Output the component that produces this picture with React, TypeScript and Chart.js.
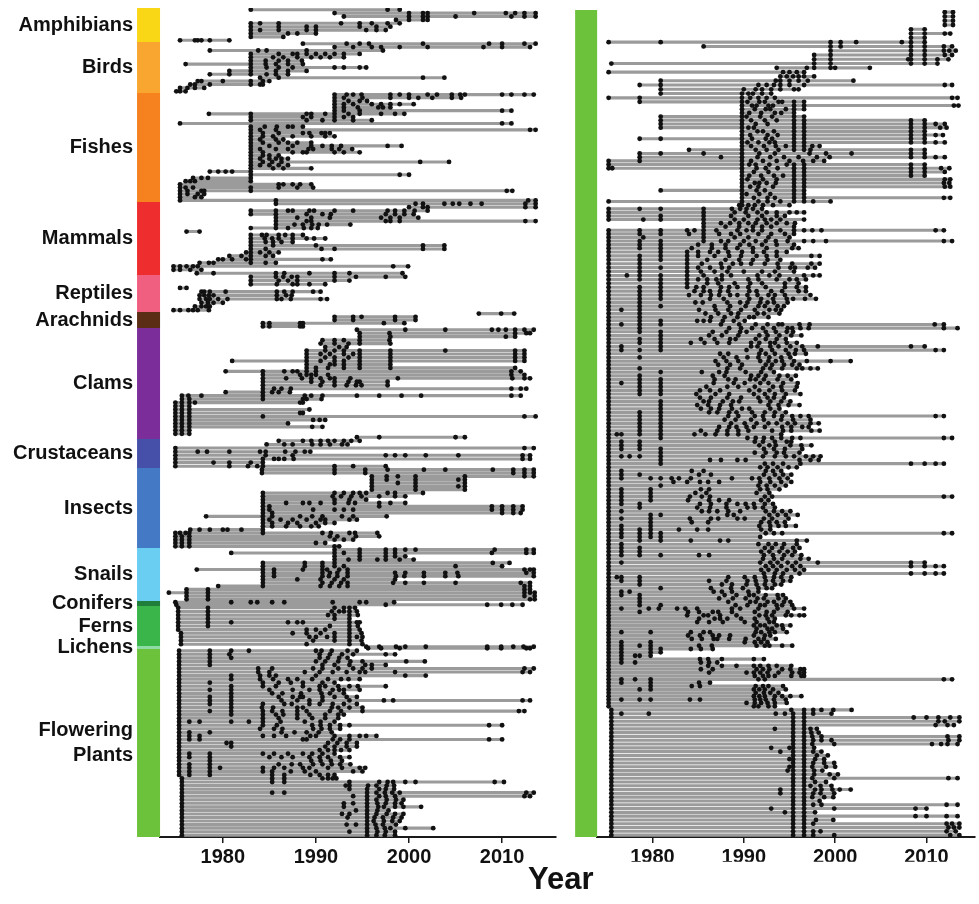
import React, { useEffect, useRef } from 'react';
import { Chart, registerables } from 'chart.js';
Chart.register(...registerables);

const FONT = "'Liberation Sans', Arial, Helvetica, sans-serif";

// ---------- LEFT PANEL: taxonomic groups ----------
const categories = ['Amphibians', 'Birds', 'Fishes', 'Mammals', 'Reptiles', 'Arachnids', 'Clams', 'Crustaceans', 'Insects', 'Snails', 'Conifers', 'Ferns', 'Lichens', 'Flowering Plants'];
const categorySizes = [34, 51, 109, 73, 37, 16, 111, 29, 80, 53, 5, 40, 3, 188];
const categoryColors = ['#F9D616', '#F9A630', '#F5821F', '#EE2D2E', '#F15F80', '#5A2D14', '#7B2D9A', '#4650A8', '#4479C6', '#6ACDF2', '#1E7E3A', '#39B54A', '#8DDBA5', '#6CC23A'];

// each row = one species; values are years of listing events (yy, <30 means 20yy)
const amphibians = [
  '83 97.7 99', '92 00 01.5 02 07 10.4 11.4 12.4 13.6', '93 00 01.5 02 05 11 12.4 13.6', '98.6 00 01.5 02',
  '83 84 86 92.7 94.7 96 97.7 99', '83 86 89 90 94.7 96.5 98', '83 84 86 89 90 95.4 96.5 97.5', '83 87 88 90', '83 86.5',
  '75.4 77 77.3 77.7 78.6 80.7',
];
const birds = [
  '88.6 93.3 94.7 95.7 01.5 08.6 10 12.4 13.6', '92 94 96 97 99 02 08 10 13', '78.6 83.8 84.7 89 97.2',
  '83 86 87.5 88 89 90 91 92 93 94.7', '83 85.4 86.5 88 89.5 90.5 91.5 93', '83 84.6 86 87 88.5', '76 83 84.6 85.7 87 88.6',
  '83 84.7 86 87.5 92 93 94.7 95.4', '80.7 83 85.7 87 89', '78.6 80.7 83 84.7 85.7 87', '84 86 01.5 03.8',
  '77.3 77.7 80 83 84.3 85', '76.5 77 78.6 83 84 84.3', '75.4 76.2 77 78', '75 75.4 76',
];
const fishes = [
  '92 93.3 94 94.9 98 99 00 02 03 04.6 05.5 06 10 11 12.4 13.4', '92 93 95 98 00 01 02.5 04.6 05.6', '92 93.5 94.7 95.5',
  '92 93 94 96 97 98 99 00.5', '92 93 94.5 96.7 97.2 98', '92 93 94.7 10 11', '78.5 83 89 89.5 91 92 93.5 94.7 97 98.5 99.5',
  '83 88.6 89.5 92 93 94', '83 89 90.7 92 94 96', '75.4 10 11', '83 84.5 85.8 87 87.5 88.6', '83 84 85.7 13 13.6',
  '83 84.3 86 88.6 89.3 90.6 91 91.5', '83 84.3 85.4 87.5 89.5 91 92', '83 84 85.7 86.5', '83 84.3 86 87 88 89.5',
  '83 85 87.5 89.5 90.7 91.7 92.7 97.7 99.2', '83 84 85.7 87 89.2 89.7 91.7 92.5 93.9', '83 84.3 87.5 88.6 89 92 93 94.7',
  '83 84.3 85 86', '83 84 85 85.7 86.3 87', '83 84.3 85.3 86.3 01.2 04.3', '83 84 85 86 87', '83 85.4 86.5 89.5',
  '78.6 79.5 80.3 81 83', '83 99 00', '76.8 77.7 78.4 83', '76 76.5 77 83', '75.4 86 86.5 87.5 88.3 89.5',
  '75.4 76 76.8 83 86 88 89.7', '75.4 76.2 77.7 78 83 10.5 11.1', '75.4 76.2 77.3 78', '75.4 77 77.7', '75.4 85.7 12.8 13.6',
];
const mammals = [
  '85.7 00.7 01.5 03.8 04.7 05.4 06.6 07.8 12.5 13.6', '00 01.5 02 12.5 13.6', '83 85.7 87 87.5 89.3 89.8 92 94 97.7 98.5 99.5 00.6 02',
  '83 85.7 89 90.7 91.6 97.5 98.5 99.5 00.5', '85.7 88 89.5 91.5 97 98 99 01', '85.7 89 89.5 97.5 98 99 12.5 13.6',
  '85.7 87.7 88.6 89.6 90.3 91.2 93.7', '83 85.7 87 88.7 89.5 90.2', '76.1 77.5', '83 84.2 84.7 86 86.7 87.5 88.6',
  '83 84.5 85.3 86 87.5 89 89.8 91', '83 84.6 85.4 86.3 87.5', '83 85.4 90 01.5 03.8', '83 84.6 90.6 92 01.5 03.8',
  '82.5 83 84 85 86', '80.7 82 83 84.6 85.4', '79.5 80 81 82.5 83 90.7 91.6', '77.5 78.5 79 83 84.6 85.7',
  '74.7 75.4 76.1 76.8 77.3 98.3 99.9', '74.7 75.4 76.5 77.7', '77.2 79 85.7 86.6 89.3 92 93.6 99.3',
];
const reptiles = [
  '83 85.7 86.5 87.4 88 92 94.3 97.5 99.6', '83 86 87 88 92 93.6', '83 85.8 87.5 88 89.3 91', '75.4 76.1',
  '77.7 78 78.6 80.3 85.8 86.6 87.5 89.7 90.5', '77.5 78 78.5 79 85.8 86.8 87.4', '77.5 78.2 78.6 79.5 80.5 85.8 86.3 87.3 90.5 91.2',
  '77.7 78.4 79 80', '77 77.7 78.2 78.6', '74.7 75.4 76.3 76.8 77.3 78.5',
];
const arachnids = ['07.5 09.9 11.3', '92 94 94.9 98.5 00.7', '92 94 98.5 00.7', '84.3 85 88.3 88.6 97.3 99.5', '84.3 85 88.3 88.6'];
const clams = [
  '94.4 99.6 03.9 08.9 09.6 10.4 11.4 12.4 13.4', '94.7 97.9 11.4 12.6 13', '94.7 98 10.4 11.4', '90.7 92 93 94.7 97.9',
  '90.5 92 93.5 94.7 98', '91 92.5 93.3', '89 91 92 93 94.7 98 03.9 11.4 12.4', '89 90.5 91.5 93 94 94.7 98 11.4 12.4',
  '89 91 92 93.5 94.7 98 11.4 12.4', '81 89 90.5 92 93 94.7 98 11.4 12.4', '89 91.5 92 93 94.7 98', '89 90 91.3 93 94.7 98 11.4',
  '80.3 84.3 86.6 87.5 88 89 90 11 12', '84.3 88.3 89 89.5 90 91.3 11 12.4', '84.3 86.8 88.5 89.5 90.5 91.5 92 93.7 98.8 11.1 12.4 13',
  '84.3 89.5 90.7 92 93.5 94.4 94.7 97.7', '84.3 90.5 92 93.3 94.3 94.9 97.7', '84.3 85.5 86.3 87.3 11 12 12.6', '80.3 84.3 85.3 86 87.2',
  '75.6 76.3 77.7 84.3 88.8 89.5 90.7 94.4 96.8 99.2 01.3 11 12', '75.6 76.4 84.3 88.6 89 90.6', '74.9 75.6 76.4 77 88.3 88.6',
  '74.9 75.6 76.4', '74.9 75.6 76.4 89.3', '74.9 75.6 76.4 88.3 88.6', '74.9 75.6 76.4 84.3 12.4 13.6', '74.9 75.6 76.4 89.7 90.4 91',
  '74.9 75.6 76.4 87', '74.9 75.6 76.4 89.6 90.7', '74.9 75.6 76.4', '74.9 75.6 76.4', '94.4 96.8 05 06',
];
const crustaceans = [
  '86 88.6 89.5 90.5 91.3 92 93 93.8 94.7', '84.7 86.6 87.5 89.6 90.5 91.5 92.8 93.4', '74.9 12.4 13.4',
  '74.9 77.3 78.3 80.7 84 84.6 86.7 87.8 88.8 89.4', '74.9 84.6 87.5 97.5 98.5 99.6 01.8 05.3 12.2 13',
  '74.9 84.3 85.5 86 86.6 87.6 12.2 13', '74.9 79 80.7 83 84.3', '74.9 80.7 82.7 83.7 84.3 92 94 97.5',
];
const insects = [
  '84.2 92 95.3 97.7 01.6 03.9 09 11.2 12.4 13.4', '84.2 92 95.3 11.2 12.4 13.4', '96 97.6 98.8 00.7 06 12.4 13.4',
  '96 97.6 00.7 05.3 06', '96 98.8 00.7 06', '96 00.7 05.3 06', '96 00.7 06', '84.3 92 93 94 94.7 95.4 97.7 98.5 01.5',
  '84.3 91.8 92.7 93.8 94.9 96.8 98.5 99.6', '84.3 92 93.6 95.4', '84.3 86.8 88.6 89.3 90.5 92 93.5 94.2 96.8 98 99.6',
  '84.3 85 96.8 08.9 10 11.2 12.2', '84.3 85 89.7 92 93 94 08.9 10 11.2 12.2', '84.3 85.3 10 11.2 12',
  '78.2 84.3 85.3 88.3 89.6 90.7 92.8 94 97.6', '84.3 85 86.2 87.5 89 90.5 91 93.6 94.4', '84.3 85.3 87 88 90 91 92',
  '84.3 85.3 86.8 88.3 89.5 90.3', '76.5 77.5 78.6 80 80.5 82 84.3', '74.9 75.4 76 76.4 84.3 90.7 91.6 93.6 94.2 96.6',
  '74.9 75.6 76.4 91.5 92.3 94.3 96.8', '74.9 75.6 76.4 92 93 94', '74.9 75.6 76.4 90 91', '74.9 75.6 76.4 92 92.5',
];
const snails = [
  '92 94.7 97.5 98.5 99.6 00.7 09.2 12.6 13.4', '80.9 92 93 94.7 97.5 98.5 08.9 12.6 13.4', '92 94.7 97.5 98.5 99.6',
  '92 93.5 94.7 96.6 97.5 99 00.5', '84.3 88.8 90.7 92 09 10.8', '84.3 88.8 90.7 92 93 05 10',
  '77.2 84.3 85.5 88.6 90.7 91.2 92.5 93.4 12.4 13 13.4', '84.3 85.5 90.7 91.5 92.3 93.4 98.5 99.6 01.6 03.9 05.2 12.6 13.4',
  '84.3 85.5 90.7 91.4 92.3 93.4 98.6 99.5 01.6 03.9 05.3 13.4', '84.3 88 90.5 92 93 98.5', '84.3 90.7 91.7 92.7 93.4 98.3 99.6 01.6 05 12 13',
  '79.5 84.3 90.5 91.5 92.5 93.4 12.4 13', '76.1 78.4 12.4 13', '74.2 76.1 78.4 12.4 13 13.5', '76.1 78.4 12.4 13.5', '76.1 78.4 13 13.5',
];
const conifers = ['74.9 80.9 83 83.7 85.3 86.6 91.8 94.7 95.4 98.4', '75 97.5 08.4 09.9 11.1 12.2'];
const ferns = [
  '75.2 78.4 92 93 93.6 94.2', '75.2 78.4 91.7 92.5 93 93.6 94.4', '75.2 78.4 91.3 92 93.6 94.5', '75.2 78.4 92 93.6',
  '75.2 78.4 80.9 87 88 88.6 93.6 94.4 94.7', '75.2 78.4 91.5 93.6 94.5', '75.2 89 90 91 93.6 94.7', '75.5 87.5 89 90.5 92 93.6 94.9',
  '75.5 89.3 90 91.2 92 93.6 94.4 95', '75.5 89.7 92 93.6 94.9', '75.5 89 93.6 95',
];
const lichens = ['95.4 96.8 98.6 99.6 01.8 08.4 09.9 11.2 12.3 13.4', '95.6 97 99 08.4 09.9 12.6 13'];
const floweringLeft = [
  '75.3 78.6 80.9 82.8 90 90.6 91.7 93.4 94.4', '75.3 78.6 80.7 90.4 91.5 92.8 94 97.5 98.5', '75.3 78.6 80.9 90.4 91.3 92.5 93.4',
  '75.3 78.6 90 91 92.4 93.7 95 99.7 01.7', '75.3 78.6 90.7 92 93.6 95.3 96 97.5', '75.3 83.8 85.3 89.7 90.7 92.4 94 95 96 12.4 13.4',
  '75.3 83.8 85 88.8 90.4 91.8 93.3 94.7 95.3 98.5 12.2 13', '75.3 80.9 84 85 85.7 90 99.6 01.8', '75.3 80.9 84 85.4 87 88 89.6 91.3 92.7 93.5 94.7',
  '75.3 78.6 84.3 86 87.3 88.6 90.7 92', '75.3 80.9 84.3 85.7 88.6 90.4 91 92.4 93.6 94.5 97.5', '75.3 78.6 80.9 85 87.5 89.3 90.4 91.8 92.5 93 94.7',
  '75.3 80.9 85.3 86.4 88.4 90.6 91.5 93', '75.3 78.6 80.9 86 87.5 88.3 88.6 90.7 92 93.3 94.4', '75.3 78.6 80.9 86.3 88 89.3 90.7 93.6 97.3 98.3 12.2 13',
  '75.3 78.6 80.9 84.3 86.6 87.4 89.3 90.4 91.8 93 94.4', '75.3 80.9 84.2 85.4 88 88.6 91.7 92.4 93.6 95', '75.3 78.6 80.9 84.3 85.3 86.4 88 89 91.5 92.7 95 11.8 12.4',
  '75.3 80.9 84.3 85.7 86.5 88 89.3 91 92.4 93', '75.3 84.3 86 88 89.6 91 92.4', '75.3 76.4 77.5 80.9 82.8 84.3 86.2 88.8 90.5 92',
  '75.3 84.3 85.8 89.6 90.5 91.5 92.6 93.6 08.6 10', '75.3 84 85.5 86.4 89.7 90.6 91.5 92.6', '75.3 76.4 78.6 86.3 87.7 89 90.3 91.7',
  '75.3 76.4 77.5 84.3 85.5 86.8 89.4 90 92 93.6 94.7 95.4 96.5', '75.3 76.4 77.5 88.6 89 91.8 92.6 93.6 08.6 10', '75.3 80.4 80.9 91.3 92.3 93.3 94.4',
  '75.3 80.9 91 92 93.3 94.4', '75.3 90.4 91.3 92 92.7 93.6', '75.3 76.4 78.6 84.3 85.5 87 88.6 89.6 90.7 92',
  '75.3 76.4 78.6 85 86.3 87.5 89.3 90.4 91.3 92.6 93.6', '75.3 78.6 89.5 90.5 91.6 92.8', '75.3 76.4 78.6 86 87.4 88.3 89.7 90.7 91.7 92.6 93.7',
  '75.3 76.4 78.6 79.7 84.3 85.5 86.6 88.6 89.3 91.3 92.8 94.7 95.3', '75.3 76.4 78.6 84.3 85.3 87.3 88.8 90 94 95', '75.3 76.4 78.6 85.3 86.6 89.4 90.4 91.3 92',
  '75.6 85.3 86.6 90.7 91.3 91.8 92.2', '75.6 85.3 86.6 93.6 96.8 97.7 98.3 99.6 00.7 09.2 10.2', '75.6 93.2 93.6 95.6 96.5 97.6 98.4',
  '75.6 93.6 95.5 96.8 97.5 98.4', '75.6 85.3 86.6 95.5 96.5 97.4 98.2 99 12.6 13.4', '75.6 94 95.5 96.8 97.5 98.5 12.4 13',
  '75.6 95.5 96.5 97.6 98.6 99.4', '75.6 93 94 95.5 96.6 97.5 98.5 99.2', '75.6 93 95.5 96.7 97.3 98.5 99.4 01.3', '75.6 94.3 95.5 96.6 97.8',
  '75.6 92.8 93.6 95.5 96.5 97.6 98.5 99.4', '75.6 93.4 95.5 96.3 97.2 98.3 99.2', '75.6 95.5 96.2 97.3 98.2 99', '75.6 93.3 94.3 95.5 96.4 97.2 98.6',
  '75.6 95.5 96.5 97.4 98 99.6 02.6', '75.6 93.6 95.5 96.6 97.5 98.5', '75.6 95.5 96.5 97.4 98.5',
];
const leftRows = [amphibians, birds, fishes, mammals, reptiles, arachnids, clams, crustaceans, insects, snails, conifers, ferns, lichens, floweringLeft];

// ---------- RIGHT PANEL: flowering plants (continued) ----------
const rightColor = '#6CC23A';
const rightGroupSizes = [90, 107, 43, 47, 293, 118, 129];
const plantsA = [
  '12 12.9', '12 12.9', '12 12.9', '12 12.9', '08.3 09.8', '08.3 09.8 12 12.6', '08.3 09.8',
  '75.2 80.9 99.5 00.6 02.3 07.3 08.3 09.8', '85.6 99.5 00.6 08.3 09.8 11.9 12.8', '99.5 08.3 09.8 11.9 12.5 13.2',
  '97.7 99.5 08.3 09.8 12 12.8', '97.7 99.5 08 08.3 09.8 11.2 12.4', '75.5 97.7 99.5 08.3 09.8 11.2', '93.6 96.9 97.7 99.5 00 03.8',
  '75.2 94.3 95 95.8 96.6', '94 94.7 95.4 96 96.6 97.7', '80.9 93.5 94 95 96 97 02', '78.6 80.9 91.6 92.5 93.3 94 95 96.6 12 12.8',
  '80.9 90 91.3 92 93 94 95.5 96', '80.9 89.8 90.5 91 92 93', '75.2 78.6 89.8 90.7 91.6 92.5 93.4 12.8 13.4',
];
const plantsB = [
  '78.6 89.8 90.4 91.7 92.3 93.8 94.2 95.5 96.6', '89.8 90.9 91.4 92.7 93.2 95.5 96.6 13 13.5', '89.8 91.2 92.4 92.9 94.6 95.5 96.6',
  '89.8 90.6 91.9 93.4 94.1 95.5', '80.9 89.8 90.3 91.8 93.1 95.5 96.6', '80.9 89.8 90.8 92.3 93.6 95.5 96.6 08.3 09.8',
  '80.9 89.8 91.3 92.6 95.5 96.6 08.3 09.8 11 12', '80.9 89.8 90.5 91.1 95.5 96.6 08.3 09.8 11.5 12.2', '89.8 91.5 92.1 93.3 95.5 96.6 08.3 09.8',
  '89.8 90.7 92.6 93.7 95.5 96.6 08.3 09.8 11 11.8', '78.6 80.9 89.8 90.9 92.4 93.1 95.5 96.6 08.3 09.8', '89.8 90.4 91.6 92.8 93.4 95.5 96.6 08.3 09.8 11 12',
  '89.8 90.8 92.2 93.5 94.6 95.5 96.6 97.5 98.3', '84 89.8 91.3 92.5 93.8 95.5 96.6 97.3 08.3 09.8', '78.6 80.9 85.6 89.8 91.7 93.4 97.2 99 01.8 08.3 09.8',
  '78.6 87.5 89.8 91.5 92.9 94.4 96 98 99.4 08.3 09.8 11 12', '75.2 78.6 89.8 90.8 92.1 93.6 95 96.5 97.6 98.8', '75.2 89.8 90.6 91.3 92.8 94.7 95.5 96.6 08.3 09.8',
  '75.2 75.6 89.8 91.4 92.4 93.7 95.5 96.6 08.3 09.8 11.6 12.5', '89.8 91.1 92.7 95.5 96.6 08.3 09.8 12', '89.8 90.6 91.9 93.3 94.3 95.5 96.6 08.3 09.8',
  '89.8 90.4 92.1 93.6 95.5 96.6 12 12.6', '89.8 91.2 91.7 92.5 93.5 95.5 96.6 11.9 12.5', '89.8 90.7 91.6 93.2 95.5 96.6 12 12.6',
  '80.9 89.8 91.4 92.3 95.5 96.6', '89.8 90.3 91.7 92.9 95.5 96.6', '89.8 91.1 92.6 93.4 95.5 96.6 11.9 12.6',
  '75.2 89.8 91.6 92.6 94 95.5 96.6 97.6 99.5', '89.5 89.8 90.5 91.2 92.1 93.2 95',
];
const plantsC = [
  '75.2 78.6 80.9 85.6 88.7 89.6 90.3 91 92', '75.2 85.6 89 90.2 91.5 92.5 93.6 95 95.8 96.6', '75.2 80.9 85.6 88.6 90.5 92 93.6 94.5',
  '75.2 79 80.9 85.6 89 90 91.5 92.3 93 94 96.6', '85.6 87.5 88.5 89.5 90.5 91.3 92.5 93.6 94.7 95.6', '85.6 88 89.5 91 92 93 95.5',
  '75.2 78.6 80.9 83.8 84.6 85.6 87 89.3 90.3 91 92 94 95.5 96.6 97.5 98.5 11 11.9', '75.2 78.6 80.9 84 85.6 87.3 88.6 89.6 91.6 93 94.5 95.5',
  '75.2 79 85.6 89 90.5 92.7 95', '75.2 78.6 80.9 85.6 87.5 88.3 90 91.3 92.4 93.5 94.8 96.6 97.6 99 11.9 12.8',
  '75.2 78.6 80.9 85 86.5 88 89.6 90.6 92 93.6 95.5', '75.2 78.6 80.9 84.3 86.5 88 89.3 91 92.5 95.3 96',
];
const plantsD = [
  '75.2 80.9 83.8 85 86.3 87.2 88.3 89.8 91 92.2 93.6 94.7', '75.2 78.6 80.9 83.8 85 86.8 88.4 89.7 91.4 92.5 93.6 97.4 98.3',
  '75.2 78.6 80.9 83.8 86 88 89.5 91 92.6 94', '75.2 78.6 83.8 85.4 87.5 88.8 89.7 90.8 92.3 93.7 95.3 97.4 98.3',
  '75.2 78.6 80.9 83.8 85 86.3 87.6 88.4 93.8 95.1 95.6 97 97.8', '75.2 78.6 83.8 85.3 86.8 88.2 90 92 93.4 95.5',
  '75.2 77.2 78.6 80.9 83.8 85.6 87.6 88.6 91.5 92.8 93.9 96.6 97.6 98.3', '75.2 78.6 80.9 83.8 85 86 87 87.6 90.5 91.6 93.6 95 95.8 96.8',
  '75.2 80.9 83.8 86 87.2 89 90.7 92 94.5 96', '75.2 78.6 80.9 83.8 84.8 85.6 87.5 88.4 89.3 90.5 92.4 94.5 95.8 96.8',
  '75.2 78.6 80.9 84.6 85.6 86.3 87.4 88.3 90.6 91.4 93 94.2 96 96.8', '75.2 78.6 80.9 84 85.3 86.4 87.3 88.5 89.3 90.4 91.5 92.7 93.4 94.5 97.3',
];
const plantsE = [
  '75.2 78.6 80.9 86.3 87.8 90.6 91.9 93.2 94.7 95.4 96.7 97.9', '75.2 78.6 84.7 85.5 88.2 89.6 90.4 91.8 92.6 93.3 94.8',
  '75.2 78.6 80.9 86.8 88.5 90.2 91.6 92.3 93.7 94.4', '75.2 76.6 78.6 85.1 86.9 88.3 89.7 91.2 92.8 93.5 94.1',
  '75.2 78.6 85.8 87.2 88.6 89.4 91.5 92.2 93.9', '75.2 78.6 86.4 87.9 89.3 90.6 91.1 92.7', '75.2 78.6 80.9 84.9 85.6 86.3 87.7 88.9 90.1',
  '75.2 76.6 78.6 80.9 87.5 89.5 91.3 92.6 93.8 94.2 96.1 97.2 10.9 11.9', '75.2 78.6 88.4 89.7 90.9 92.1 93.3 94.8 95.3 96.2 97.1 11.9 13.4',
  '75.2 78.6 80.9 86.6 88.1 89.6 90.3 92.4 93.5 94.7 95.4', '75.2 80.9 86.2 87.6 89.4 91.7 92.6 93.9 95.2 96.3',
  '75.2 78.6 80.9 85.3 86.8 88.5 89.1 91.3 92.4 93.6 94.6', '75.2 78.6 80.9 84.2 85.7 87.1 88.4 90.8 91.7 92.9 93.4 94.7 95.8',
  '75.2 76.6 80.9 90.8 91.5 92.9 93.8 95.1 96.4 98.1 08.3 09.8', '75.2 76.6 78.6 80.9 90.3 91.9 93.1 94.6 95.7 96.6 11 11.9',
  '75.2 87.4 88.3 91.7 92.4 93.4 94.9 95.6 96.8', '75.2 78.6 87.8 89.2 90.4 91.6 92.8 94.1 95.1',
  '75.2 86.9 88.1 89.4 91.8 92.7 93.5 94.2 95.5 96.9 99.5 01.7', '75.2 87.2 88.5 89.8 92.4 93.1 94.4 95.3 96.1',
  '75.2 78.6 88.2 89.6 92.1 92.9 94.2 95.8 96.4 97.3 98.1', '75.2 80.9 85.4 87.3 88.1 90.2 91.9 93.3',
  '75.2 78.6 86.6 87.9 90.8 91.6 92.4 93.9 94.8 95.7', '75.2 78.6 80.9 86.8 88.3 89.1 90.7 91.3 92.2 93.7 95.2',
  '75.2 76.6 78.6 80.9 86.7 88.9 90.1 91.8 92.7 94.3 95.9', '75.2 78.6 80.9 85.9 88.2 89.4 91.2 93.2 94.1 95.8',
  '75.2 78.6 80.9 85.2 86.3 87.4 90.6 91.7 92.8 94.2 95.6', '75.2 78.6 80.9 84.8 86.9 88.4 91.1 92.3 93.4 94.6 96.2',
  '75.2 85.2 86.4 88.2 89.7 91.6 92.6 93.3 94.4', '75.2 80.9 85.6 86.2 87.7 88.8 89.5 91.8 92.9 94.1 95.1',
  '75.2 80.9 84.9 86.1 87.4 88.6 92.7 93.8 94.9 96.1', '75.2 80.9 85.3 86.4 87.3 88.7 89.8 90.6 92.9 93.9',
  '75.2 78.6 80.9 86.2 87.1 88.4 89.2 90.9 92.3 93.4 94.6', '75.2 78.6 80.9 88.3 89.4 91.2 92.1 93.3 94.2 95.3 96.2 97.1 11 11.9',
  '75.2 78.6 80.9 87.9 89.1 90.8 92.2 94.1 95.4 97.3', '75.2 78.6 80.9 88.6 90.1 91.4 92.7 93.6 94.8 95.6 97.3 98.2',
  '75.2 78.6 80.9 87.3 88.4 89.2 90.3 91.1 92.3 94.2 95.2 96.4 97.1', '75.2 78.6 80.9 85.3 87.1 88.2 89.4 90.5 93.1 94.3 95.2 97.4 98.3',
  '75.2 76.1 76.6 78.6 80.9 84.6 85.8 86.9 88.2 89.4 94.1', '75.2 80.9 90.4 91.3 92.2 93.1 94.1 95.3 96.2 11.9 12.8',
  '75.2 76.6 78.6 91.2 92.1 93.4 94.7 95.2', '75.2 76.6 78.6 91.7 92.8 93.5 95.1 96.3 97.4', '75.2 76.6 78.6 80.9 92.2 93.3 94.5 96.4',
  '75.2 80.9 91.2 92.4 93.6 94.4 96.1', '75.2 76.6 77.5 78.6 80.9 92.1 93.4 94.6 95.5 96.8 97.6 98.4', '75.2 80.9 86.3 87.5 89.3 90.2 96.1 97.3 98.2',
  '75.2 80.9 92.3 93.2 94.3 96.2 08.3 09.8 11 11.9', '75.2 91.8 92.6 93.7 94.9 95.8', '75.2 76.6 84.3 85.6 92.4 93.2 94.1',
  '75.2 76.6 78.6 85.1 86.4 92.2 93.4 94.3 95.2', '75.2 76.6 79.8 80.9 82.1 82.9 84.2 88.7 90.9 91.7 92.8 93.9 94.8',
  '75.2 82.3 83.8 85.2 86.1 87.3 91.8 92.9 94.1 95.2', '75.2 80.9 91.6 92.5 93.4 94.6', '75.2 76.6 79.8 85.3 86.2 91.8 92.6 93.9',
  '75.2 76.6 79.8 84.7 85.9 91.4 92.8', '75.2 76.6 79.8 84.1 85.4 86.3 92.3 93.1 11.9 12.8', '75.2 76.6 79.8 83.9 86.2 87.3 88.4 91.9 92.7',
  '75.2 76.6 78.6 85.2 86.4 88.1 89.3 90.2 91.1 92.3 93.2', '75.2 78.6 84.9 86.3 88.1 90.4 91.2 92.1 93.4',
  '75.2 76.6 85.4 86.2 87.1 88.3 89.6 92.4 93.3 94.2 95.1', '75.2 79.8 80.9 88.2 88.9 92.8 93.7 94.6 95.9',
  '75.2 76.6 79.8 84.1 86.4 87.2 89.3 90.1 92.2 93.1 94.9', '75.2 79.8 84.3 86.1 91.9 92.8 93.6 94.5', '75.2 76.6 79.8 91.7 92.9 93.8 94.6 95.7',
  '75.2 76.6 78.6 79.8 82.9 84.9 86.1 91.9 92.9', '75.2 76.6 78.6 79.8 80.9 92.4 93.3 94.2 11.9 12.8', '75.2 76.6 78.6 79.8 80.9 91.8',
  '75.2 78.6 80.9 84.2 87.4 88.3 95.8 96.9', '75.2 76.6 91.6 92.7 93.5 94.4 95.8', '75.2 76.6 78.6 92.3 93.1 94.2 95.4 96.1',
  '75.2 76.6 78.6 91.9 92.8 93.9 94.8 95.6', '75.2 76.6 78.6 80.9 85.1 86.2 92.2 93.2 94.4 95.3 96.3', '75.2 92.1 93.3 94.2 96.2 97.1',
  '75.2 76.6 91.8 92.9 93.7 94.8 95.7 98.1 08.3 09.8', '75.2 92.4 93.2 94.1 95.3 96.2 08.3 09.8 11 11.9', '75.2 91.9 92.7 93.6 94.7 95.6 96.6',
  '75.2 92.2 93.4 94.3 96.1 08.3 09.8 11 11.9', '75.2 76.1 76.6 78.6 88.3 90.1 91.2 92.3 93.3 94.1 95.2', '75.2 76.6 78.6 86.2 88.1 90.4 91.3 92.4 93.2 94.3 95.1',
  '75.2 78.6 87.6 88.7 90.3 91.4 92.3 93.4 94.1', '75.2 80.9 86.4 88.6 89.9 91.6 92.5 93.1',
];
const plantsF = [
  '75.2 76.6 77.5 86.7 87.6 88.7 90.5 91.6', '75.2 76.6 78.6 87.9 89.2 90.6 91.1 92.4 93.7 94.3', '75.2 78.6 87.3 88.8 90.2 91.5 92.2 93.8 94.6',
  '75.2 78.6 88.3 90.7 91.3 92.6 93.3 94.4 95.1', '75.2 78.6 80.9 89.1 90.4 91.8 92.3 93.6 94.2 95.3',
  '75.2 76.6 79.6 80.7 82.7 83.6 84.9 88.7 89.6 91.6 93.7 95.5 96.6', '75.2 78.6 83.9 85.1 86.6 87.2 88.7 91.2 92.5 93.3 94.8',
  '75.2 83.8 85.6 86.1 87.4 89.2 91.7 92.4 93.1 94.6 95.2 96.1 96.6', '75.2 85.1 86.8 87.4 88.2 89.7 91.2 92.6 93.4',
  '75.2 84.9 86.2 87.7 90.1 91.4 92.8 93.3', '75.2 91.1 91.8 92.3 93.6 94.2 95.1', '75.2 91.4 92.6 93.1 94.3',
  '75.2 76.6 79.8 84.2 85.6 86.3 91.3 91.9 92.8 93.4 94.7', '75.2 83.9 85.2 86.6 87.3 88.5 91.1 92.3 92.9',
  '75.2 84.3 85.4 86.7 87.1 88.4 90.2 91.6 92.2 93.5', '75.2 76.6 79.8 90.1 91.2 91.9 92.6', '75.2 76.6 78.6 79.8 85.1 86.5 91.4 92.3 92.8 94.2 95.3',
  '75.2 76.6 79.8 80.9 84.2 85.3 86.6', '75.2 76.6 79.8 80.9', '75.2 76.6 78.1 78.6 79.8', '75.2 76.6 85.2 86.1 87.6 91.1 92.2',
  '75.2 76.6 78.1 85.3 86.2 87.1', '75.2 86.1 87.6 89.2 91.1 91.8 92.7 93.6 95.2', '75.2 85.3 86.6 91.4 92.1 92.8 94.2 95.1 96.2 96.6',
  '75.2 86.2 90.3 91.1 91.8 92.6 93.8 95.3 96.1 96.6', '75.2 91.2 92.1 92.7 93.4 95.2 96.3 96.6', '75.2 76.6 78.1 79.8 91.6 92.3 11.9 12.8',
  '75.2 76.6 79.8 85.1 86.3', '75.2 79.8 84.3 85.2 91.3 92.1 92.7 94.3', '75.2 78.6 79.8 91.1 91.7 92.3 93.2 94.6', '75.2 91.3 92.2 92.9 93.8',
  '75.2 91.1 91.7 92.3 93.4 94.2 95.1 96.3', '75.2 76.6 78.6 79.8 84.1 85.2 91.2 91.8 92.4 93.3 94.6', '75.2 90.3 91.2 91.9 92.6 93.4 94.7',
  '75.2 91.1 91.6 92.7 93.4',
];
const plantsG = [
  '75.5 95.2 96.6 97.6 98.5 99.8 01.8', '75.5 76.6 79.6 93.5 94.5 95.4 96.6 97.6 99.6', '75.5 95.4 96.6 08.6 10 11.3 12.6 13.6',
  '75.5 95.4 96.6 11.3 12 13.6', '75.5 95.4 96.6 11 12.3 13', '75.5 93.4 95.4 96.6 97.3 98', '75.5 95.4 96.6 97.4 98.2',
  '75.5 95.4 96.6 97.5 98.5 12.3 13.6', '75.5 95.4 96.6 97.6 98.5 99.6 12.4 13.6', '75.5 95.4 96.6 97.5 99.9 10.6 11.6 12.3 13.4',
  '75.5 93 95 95.4 96.6 97.7', '75.5 94 95.4 96.6 97.6 98.5', '75.5 95.4 96.6 98 99.2', '75.5 95 95.4 96.6 97.8 98.8',
  '75.5 95.4 96.6 97.6 98.8 99.9', '75.5 95 95.4 96.6 97.5 99 00', '75.5 94.8 95.4 96.6 97.7 98.6', '75.5 95.4 96.6 97.7 99.4 00.3',
  '75.5 95.4 96.6 97.5 99.9 12.4 13.4', '75.5 95.4 96.6 97.8 99', '75.5 95.4 96.6 97.3 98.4 99.6', '75.5 94 95.4 96.6 97.8 98.5 99.7 00.5 01.7',
  '75.5 94 95.4 96.6 97.6 98.4 99.9', '75.5 95.4 96.6 97.5 98.8 99.8', '75.5 95.4 96.6 98.3', '75.5 95.4 96.6 97.6 98.5 12.2 13.4',
  '75.5 93 95.4 96.6 99.9 08.8 10', '75.5 94.5 95.4 96.6 97.8', '75.5 95.4 96.6 08.8 10 12.2 13.4', '75.5 95.4 96.6 97.9 99.8',
  '75.5 95.4 96.6 97.6 12.2 12.8 13.6', '75.5 95.4 96.6 12.4 13 13.6', '75.5 95.4 96.6 97.6 98.4 12.2 13.2', '75.5 95.4 96.6 97.6 99.9 12.6 13.6',
];
const rightRows = [plantsA, plantsB, plantsC, plantsD, plantsE, plantsF, plantsG];

const yearTicks = [1980, 1990, 2000, 2010];

function toYear(s: string): number {
  const v = parseFloat(s);
  return v < 30 ? 2000 + v : 1900 + v;
}

function buildMarks(groups: string[][], sizes: number[]) {
  const spans: any[] = [];
  const dots: any[] = [];
  const bands: { start: number; end: number }[] = [];
  let start = 0;
  groups.forEach((rows, g) => {
    const step = sizes[g] / rows.length;
    rows.forEach((r, i) => {
      const y = start + (i + 0.5) * step;
      const yrs = r.trim().split(/\s+/).map(toYear);
      spans.push({ x: Math.min(...yrs), y }, { x: Math.max(...yrs), y }, { x: null, y: null });
      yrs.forEach((x) => dots.push({ x, y }));
    });
    bands.push({ start, end: start + sizes[g] });
    start += sizes[g];
  });
  return { spans, dots, bands, total: start };
}

function xScale(min: number, max: number, height: number) {
  return {
    type: 'linear',
    position: 'bottom',
    min,
    max,
    afterBuildTicks: (s: any) => { s.ticks = yearTicks.map((v) => ({ value: v })); },
    afterFit: (s: any) => { s.height = height; },
    ticks: { callback: (v: any) => String(v), font: { family: FONT, size: 20, weight: 'bold' }, color: '#111', padding: 2, maxRotation: 0, autoSkip: false },
    grid: { display: true, drawOnChartArea: false, drawTicks: true, tickLength: 6, color: '#1a1a1a', lineWidth: 1.5 },
    border: { display: true, color: '#1a1a1a', width: 2 },
  };
}

function markDatasets(m: any, stripX: number, stripW: number, colors: string[]) {
  const ds: any[] = [
    { data: m.dots, showLine: false, pointRadius: 2.4, pointBackgroundColor: '#111', pointBorderWidth: 0, order: 0 },
    { data: m.spans, showLine: true, borderColor: '#9b9b9b', borderWidth: 3.1, pointRadius: 0, spanGaps: false, order: 1 },
  ];
  m.bands.forEach((b: any, i: number) => {
    ds.push({
      data: [{ x: stripX, y: b.start }, { x: stripX, y: b.end }],
      showLine: true, borderColor: colors[i], borderWidth: stripW, borderCapStyle: 'butt', pointRadius: 0, clip: false, order: 2,
    });
  });
  return ds;
}

export default function App() {
  const leftRef = useRef<HTMLCanvasElement>(null);
  const rightRef = useRef<HTMLCanvasElement>(null);

  useEffect(() => {
    const lm = buildMarks(leftRows, categorySizes);
    const centers = lm.bands.map((b) => (b.start + b.end) / 2);
    const labels = categories.map((c) => (c === 'Flowering Plants' ? ['Flowering', 'Plants'] : c));
    const left = new Chart(leftRef.current as HTMLCanvasElement, {
      type: 'scatter',
      data: { datasets: markDatasets(lm, 1972.02, 23, categoryColors) },
      options: {
        responsive: false,
        animation: false,
        events: [],
        layout: { padding: { top: 8, right: 3, bottom: 37, left: 0 } },
        plugins: { legend: { display: false }, tooltip: { enabled: false }, title: { display: false } },
        scales: {
          x: xScale(1973.25, 2015.79, 30),
          y: {
            type: 'linear', reverse: true, min: 0, max: lm.total,
            afterBuildTicks: (s: any) => { s.ticks = centers.map((v) => ({ value: v })); },
            afterFit: (s: any) => { s.width = 160; s.paddingTop = 0; s.paddingBottom = 0; },
            ticks: { callback: (_v: any, i: number) => labels[i], font: { family: FONT, size: 20, weight: 'bold', lineHeight: 1.25 }, color: '#111', padding: 27, autoSkip: false },
            grid: { display: false, drawTicks: false },
            border: { display: false },
          },
        },
      } as any,
    });

    const rm = buildMarks(rightRows, rightGroupSizes);
    const right = new Chart(rightRef.current as HTMLCanvasElement, {
      type: 'scatter',
      data: { datasets: markDatasets({ ...rm, bands: [{ start: 0, end: rm.total }] }, 1972.74, 22, [rightColor]) },
      options: {
        responsive: false,
        animation: false,
        events: [],
        layout: { padding: { top: 10, right: 0, bottom: 5, left: 0 } },
        plugins: {
          legend: { display: false }, tooltip: { enabled: false },
          title: { display: true, text: 'Year', position: 'bottom', align: 'start', color: '#111', font: { family: FONT, size: 31, weight: 'bold', lineHeight: 1.2 }, padding: { top: 0, bottom: 0 } },
        },
        scales: {
          x: xScale(1973.93, 2015.31, 24.8),
          y: {
            type: 'linear', reverse: true, min: 0, max: rm.total,
            afterFit: (s: any) => { s.width = 69; s.paddingTop = 0; s.paddingBottom = 0; },
            ticks: { display: false },
            grid: { display: false, drawTicks: false },
            border: { display: false },
          },
        },
      } as any,
    });
    return () => { left.destroy(); right.destroy(); };
  }, []);

  return (
    <div style={{ position: 'absolute', left: 0, top: 0, width: 979, height: 904, background: '#fff' }}>
      <canvas ref={leftRef} width={560} height={904} style={{ position: 'absolute', left: 0, top: 0 }} />
      <canvas ref={rightRef} width={451} height={904} style={{ position: 'absolute', left: 528, top: 0 }} />
    </div>
  );
}
